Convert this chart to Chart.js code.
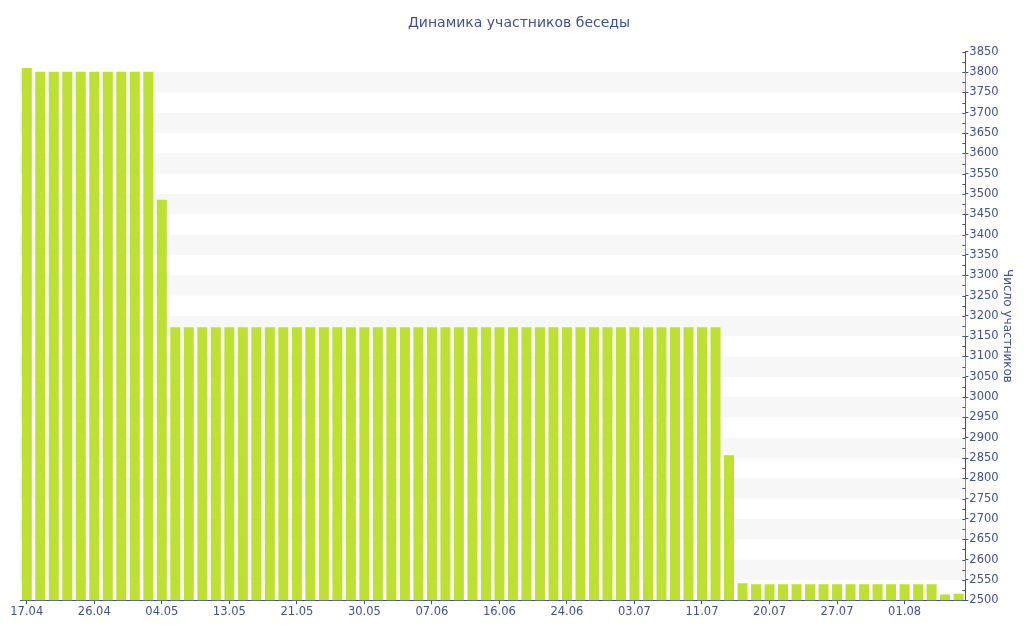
<!DOCTYPE html>
<html>
<head>
<meta charset="utf-8">
<script src="https://cdn.jsdelivr.net/npm/chart.js@4/dist/chart.umd.min.js"></script>
<style>
  html, body { margin: 0; padding: 0; background: #fff; }
  #wrap { width: 1024px; height: 640px; }
</style>
</head>
<body>
<div id="wrap"><canvas id="chart"></canvas></div>
<script>
const dates = [
    '17.04', '19.04', '20.04', '22.04', '24.04',
    '26.04', '27.04', '29.04', '01.05', '02.05',
    '04.05', '06.05', '08.05', '10.05', '11.05',
    '13.05', '15.05', '16.05', '18.05', '20.05',
    '21.05', '23.05', '25.05', '27.05', '28.05',
    '30.05', '01.06', '02.06', '04.06', '06.06',
    '07.06', '09.06', '11.06', '13.06', '14.06',
    '16.06', '18.06', '19.06', '21.06', '23.06',
    '24.06', '26.06', '28.06', '30.06', '01.07',
    '03.07', '05.07', '06.07', '08.07', '10.07',
    '11.07', '13.07', '15.07', '17.07', '18.07',
    '20.07', '21.07', '23.07', '24.07', '26.07',
    '27.07', '28.07', '29.07', '30.07', '31.07',
    '01.08', '02.08', '03.08', '04.08', '05.08'
];

const members = [
    3810, 3801, 3801, 3801, 3801, 3801, 3801, 3801, 3801, 3801,
    3486, 3172, 3172, 3172, 3172, 3172, 3172, 3172, 3172, 3172,
    3172, 3172, 3172, 3172, 3172, 3172, 3172, 3172, 3172, 3172,
    3172, 3172, 3172, 3172, 3172, 3172, 3172, 3172, 3172, 3172,
    3172, 3172, 3172, 3172, 3172, 3172, 3172, 3172, 3172, 3172,
    3172, 3172, 2857, 2542, 2539, 2539, 2539, 2539, 2539, 2539,
    2539, 2539, 2539, 2539, 2539, 2539, 2539, 2539, 2514, 2516
];

const yMin = 2500;
const yMax = 3850;
const yStep = 50;

const textColor = '#3f519c';
const axisColor = '#3f519c';
const fontFamily = '"DejaVu Sans", Verdana, sans-serif';

// grey stripes behind the bars, every other 50 interval
const bandsPlugin = {
    id: 'bands',
    beforeDatasetsDraw(chart) {
        const { ctx, chartArea, scales } = chart;
        const y = scales.y;
        ctx.save();
        ctx.fillStyle = '#f7f7f7';
        for (let v = yMin + yStep; v < yMax - yStep; v += yStep * 2) {
            const top = y.getPixelForValue(v + yStep);
            const bottom = y.getPixelForValue(v);
            ctx.fillRect(chartArea.left, top, chartArea.right - chartArea.left, bottom - top);
        }
        ctx.restore();
    }
};

// small ticks on the inner side of the right axis
const minorTicksPlugin = {
    id: 'minorTicks',
    afterDraw(chart) {
        const { ctx, scales } = chart;
        const y = scales.y;
        const x0 = y.left;
        ctx.save();
        ctx.strokeStyle = axisColor;
        ctx.lineWidth = 1;
        ctx.beginPath();
        for (let v = yMin; v <= yMax; v += yStep / 2) {
            const py = Math.round(y.getPixelForValue(v)) + 0.5;
            ctx.moveTo(x0 - 3, py);
            ctx.lineTo(x0, py);
        }
        ctx.stroke();
        ctx.restore();
    }
};

const ctx = document.getElementById('chart').getContext('2d');
new Chart(ctx, {
    type: 'bar',
    data: {
        labels: dates,
        datasets: [{
            label: 'Число участников',
            data: members,
            backgroundColor: '#bee032',
            borderWidth: 0,
            categoryPercentage: 1.0,
            barPercentage: 0.74
        }]
    },
    options: {
        responsive: true,
        maintainAspectRatio: false,
        animation: false,
        layout: { padding: { left: 20, right: 6, top: 0, bottom: 20 } },
        plugins: {
            legend: { display: false },
            tooltip: { enabled: false },
            title: {
                display: true,
                text: 'Динамика участников беседы',
                color: textColor,
                font: { family: fontFamily, size: 14, weight: 'normal' },
                padding: { top: 15, bottom: 20 }
            }
        },
        scales: {
            x: {
                offset: true,
                grid: {
                    offset: false,
                    drawOnChartArea: false,
                    color: axisColor,
                    tickLength: 4
                },
                border: { color: axisColor, width: 1 },
                ticks: {
                    autoSkip: false,
                    maxRotation: 0,
                    padding: 1,
                    color: textColor,
                    font: { family: fontFamily, size: 11.5 },
                    callback: function (value, index) {
                        return index % 5 === 0 ? dates[index] : null;
                    }
                }
            },
            y: {
                position: 'right',
                min: yMin,
                max: yMax,
                grid: {
                    drawOnChartArea: false,
                    color: axisColor,
                    tickLength: 3
                },
                border: { color: axisColor, width: 1 },
                ticks: {
                    stepSize: yStep,
                    padding: 1,
                    color: textColor,
                    font: { family: fontFamily, size: 11.5 },
                    callback: function (value) {
                        return String(value);
                    }
                },
                title: {
                    display: true,
                    text: 'Число участников',
                    color: textColor,
                    font: { family: fontFamily, size: 12 },
                    padding: { top: 4, bottom: 0 }
                }
            }
        }
    },
    plugins: [bandsPlugin, minorTicksPlugin]
});
</script>
</body>
</html>
